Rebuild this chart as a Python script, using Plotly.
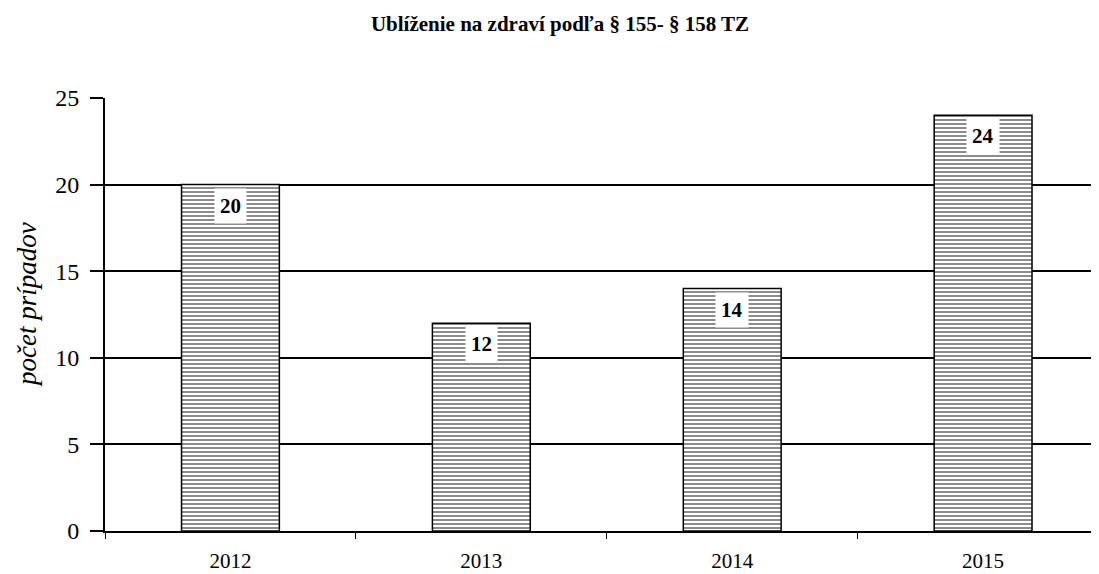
import plotly.graph_objects as go

years = ["2012", "2013", "2014", "2015"]
cases = [20, 12, 14, 24]
y_ticks = [0, 5, 10, 15, 20, 25]

title_text = "Ublíženie na zdraví podľa § 155- § 158 TZ"
y_title = "počet prípadov"

FONT = "Liberation Serif, Times New Roman, serif"

# figure is placed by the page with an 8px body margin
W, H = 1091, 566
L, T, B, R = 97, 90, 43, 0
PW, PH = W - L - R, H - T - B

fig = go.Figure()
fig.add_trace(go.Bar(
    x=years, y=cases,
    marker=dict(
        color="white",
        line=dict(color="black", width=1.5),
        pattern=dict(shape="-", fgcolor="black", bgcolor="white", size=4, solidity=0.45),
    ),
    width=0.39,
    hoverinfo="skip",
))

for i, v in enumerate(cases):
    fig.add_annotation(
        x=i, y=v, xref="x", yref="y", yanchor="top", yshift=-3, text=f"<b>{v}</b>",
        showarrow=False, bgcolor="white", borderpad=5,
        font=dict(family=FONT, size=21, color="black"),
    )

# y-axis title as rotated annotation
fig.add_annotation(
    x=(19 - L) / PW, y=(H - B - 297) / PH, xref="paper", yref="paper",
    xanchor="center", yanchor="middle", textangle=-90, showarrow=False,
    text=f"<i>{y_title}</i>", font=dict(family=FONT, size=27, color="black"),
)

fig.update_layout(
    width=W, height=H,
    margin=dict(l=L, r=R, t=T, b=B, autoexpand=False),
    paper_bgcolor="white", plot_bgcolor="white",
    showlegend=False,
    font=dict(family=FONT, color="black"),
    title=dict(text=f"<b>{title_text}</b>", x=552 / W, xanchor="center", xref="container",
               y=1 - 16 / H, yref="container", yanchor="middle",
               font=dict(family=FONT, size=21, color="black")),
)

fig.update_xaxes(
    type="category", range=[-0.5, 3.462], automargin=False,
    showline=True, linecolor="black", linewidth=2,
    ticks="outside", tickson="boundaries", ticklen=6, tickcolor="black", tickwidth=1,
    showgrid=False, ticklabelstandoff=10,
    tickfont=dict(family=FONT, size=21, color="black"),
)
fig.update_yaxes(
    range=[0, 25], tickvals=y_ticks, automargin=False,
    showline=True, linecolor="black", linewidth=2,
    ticks="outside", ticklen=13, tickcolor="black", tickwidth=1.5,
    showgrid=True, gridcolor="black", gridwidth=2,
    zeroline=False, ticklabelstandoff=6,
    tickfont=dict(family=FONT, size=24, color="black"),
)

fig.write_html("out.html")
